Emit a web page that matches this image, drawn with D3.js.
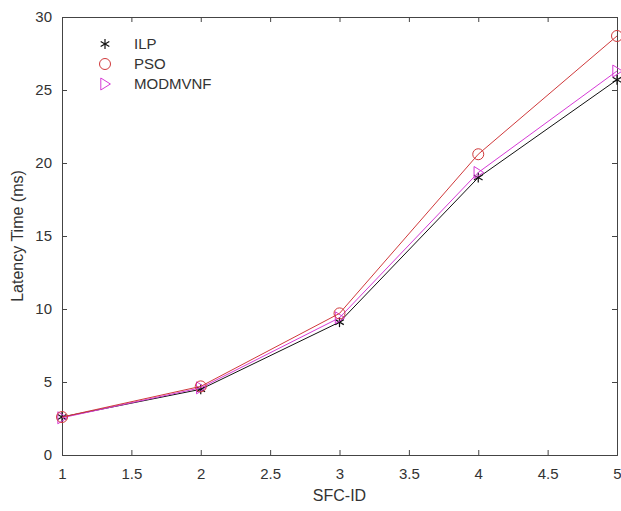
<!DOCTYPE html>
<html><head><meta charset="utf-8">
<script src="https://cdn.jsdelivr.net/npm/d3@7"></script>
<style>body{margin:0;background:#fff}svg{display:block}text{font-family:"Liberation Sans",Arial,sans-serif;fill:#333}</style>
</head><body>
<script>
const sfcIds = [1, 2, 3, 4, 5];
const ilp = [2.6, 4.5, 9.1, 19.0, 25.7];
const pso = [2.6, 4.7, 9.7, 20.6, 28.7];
const modmvnf = [2.55, 4.6, 9.4, 19.35, 26.3];
const xTicks = [1, 1.5, 2, 2.5, 3, 3.5, 4, 4.5, 5];
const yTicks = [0, 5, 10, 15, 20, 25, 30];
const seriesNames = ["ILP", "PSO", "MODMVNF"];

const W = 621, H = 511;
const m = {left: 62, right: 4, top: 17, bottom: 56};
const svg = d3.select("body").append("svg").attr("width", W).attr("height", H);
const x = d3.scaleLinear().domain([1, 5]).range([m.left, W - m.right]);
const y = d3.scaleLinear().domain([0, 30]).range([H - m.bottom, m.top]);
const axCol = "#444";

// axes
const gx = svg.append("g").attr("transform", `translate(0,${H - m.bottom})`)
  .call(d3.axisBottom(x).tickValues(xTicks).tickSize(-5).tickPadding(13).tickFormat(d3.format("")));
const gxt = svg.append("g").attr("transform", `translate(0,${m.top})`)
  .call(d3.axisTop(x).tickValues(xTicks).tickSize(-5).tickFormat(""));
const gy = svg.append("g").attr("transform", `translate(${m.left},0)`)
  .call(d3.axisLeft(y).tickValues(yTicks).tickSize(-5).tickPadding(10));
const gyr = svg.append("g").attr("transform", `translate(${W - m.right},0)`)
  .call(d3.axisRight(y).tickValues(yTicks).tickSize(-5).tickFormat(""));
[gx, gxt, gy, gyr].forEach(g => {
  g.selectAll("path,line").attr("stroke", axCol).attr("stroke-width", 1);
  g.selectAll("text").style("font-size", "15px").style("font-family", "'Liberation Sans',Arial,sans-serif").attr("fill", "#333");
});

svg.append("text").attr("x", (m.left + W - m.right) / 2).attr("y", 501)
  .attr("text-anchor", "middle").style("font-size", "16px").text("SFC-ID");
svg.append("text").attr("transform", `translate(23,${(m.top + H - m.bottom) / 2}) rotate(-90)`)
  .attr("text-anchor", "middle").style("font-size", "16px").text("Latency Time (ms)");

const colors = {ILP: "#111", PSO: "#d0393b", MODMVNF: "#d63ad6"};
const dataBy = {ILP: ilp, PSO: pso, MODMVNF: modmvnf};
const line = d3.line().x((d, i) => x(sfcIds[i])).y(d => y(d));

function marker(g, name, cx, cy) {
  const c = colors[name];
  if (name === "ILP") {
    const r = 5;
    for (let k = 0; k < 3; k++) {
      const a = Math.PI / 2 + k * Math.PI / 3;
      g.append("line").attr("x1", cx - r * Math.cos(a)).attr("y1", cy - r * Math.sin(a))
        .attr("x2", cx + r * Math.cos(a)).attr("y2", cy + r * Math.sin(a))
        .attr("stroke", c).attr("stroke-width", 1.2);
    }
  } else if (name === "PSO") {
    g.append("circle").attr("cx", cx).attr("cy", cy).attr("r", 5.5)
      .attr("fill", "none").attr("stroke", c).attr("stroke-width", 1);
  } else {
    const s = 6;
    g.append("path").attr("d", `M${cx - s * 0.7},${cy - s}L${cx + s * 0.9},${cy}L${cx - s * 0.7},${cy + s}Z`)
      .attr("fill", "none").attr("stroke", c).attr("stroke-width", 1);
  }
}

const plot = svg.append("g");
["ILP", "MODMVNF", "PSO"].forEach(name => {
  plot.append("path").datum(dataBy[name]).attr("d", line)
    .attr("fill", "none").attr("stroke", colors[name]).attr("stroke-width", 1);
  dataBy[name].forEach((v, i) => marker(plot, name, x(sfcIds[i]), y(v)));
});

// legend
const lg = svg.append("g");
seriesNames.forEach((name, i) => {
  const ly = 44 + i * 20;
  marker(lg, name, 105, ly);
  lg.append("text").attr("x", 134).attr("y", ly + 5).style("font-size", "15px").text(name);
});
</script>
</body></html>
